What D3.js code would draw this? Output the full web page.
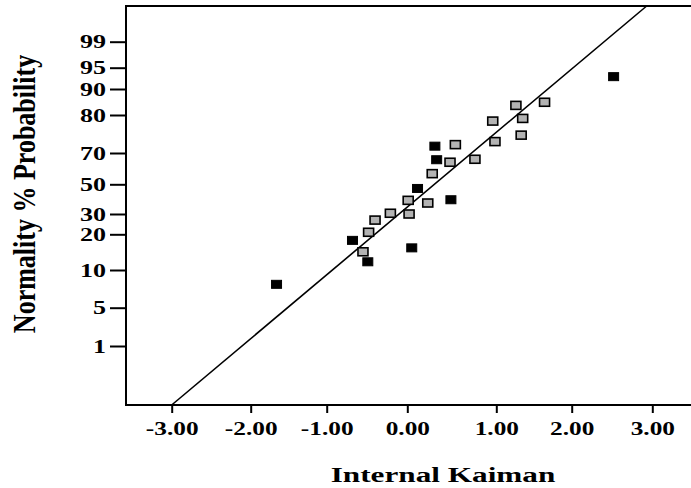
<!DOCTYPE html>
<html>
<head>
<meta charset="utf-8">
<script src="https://cdn.jsdelivr.net/npm/d3@7"></script>
<style>
  html, body { margin: 0; padding: 0; background: #fff; }
  svg { display: block; }
  text { font-family: "Liberation Serif", "Times New Roman", serif; font-weight: bold; fill: #000; }
</style>
</head>
<body>
<svg id="chart" width="691" height="488"></svg>
<script>
// ---- data ----
const xTicks = [-3, -2, -1, 0, 1, 2, 3];
const yTicks = [1, 5, 10, 20, 30, 50, 70, 80, 90, 95, 99];
// filled (black) runs: residual, normal % probability
const blackX = [-1.66, -0.68, -0.49, 0.05, 0.115, 0.31, 0.33, 0.49, 2.52];
const blackP = [8.1, 18.3, 12.3, 16.2, 47.2, 71.8, 65.7, 39.6, 92.9];
// gray runs
const grayX = [-0.55, -0.48, -0.40, -0.21, 0.01, 0.02, 0.23, 0.28, 0.48, 0.54, 0.76, 0.96, 0.985, 1.26, 1.35, 1.33, 1.64];
const grayP = [15.1, 21.0, 27.0, 30.5, 39.2, 30.0, 37.4, 56.8, 64.1, 72.2, 66.0, 78.4, 73.0, 83.7, 79.1, 74.7, 84.9];
// reference line: residual at bottom and top of plot
const lineX = [-3.00, 2.93];
const xTitle = "Internal Kaiman";
const yTitle = "Normality % Probability";

// ---- layout ----
const svg = d3.select("#chart");
const plotLeft = 126, plotTop = 6, plotBottom = 405, plotRight = 691;
const SX = 1.37; // horizontal text stretch of the reference

const x = d3.scaleLinear()
  .domain(xTicks)
  .range([171.7, 250.7, 326.7, 407.3, 496.3, 571.7, 652.3]);
const y = d3.scaleLinear()
  .domain(yTicks)
  .range([346, 307.7, 270, 234.3, 214, 184.3, 153, 115, 89, 67.7, 41.7]);

// frame
const frame = svg.append("g").attr("stroke", "#000").attr("stroke-width", 2).attr("fill", "none");
frame.append("line").attr("x1", plotLeft).attr("x2", plotLeft).attr("y1", plotTop - 1).attr("y2", plotBottom + 1);
frame.append("line").attr("x1", plotLeft).attr("x2", plotRight).attr("y1", plotTop).attr("y2", plotTop);
frame.append("line").attr("x1", plotLeft).attr("x2", plotRight).attr("y1", plotBottom).attr("y2", plotBottom);

// x axis
const gx = svg.append("g").attr("transform", `translate(0,${plotBottom})`)
  .call(d3.axisBottom(x).tickValues(xTicks).tickFormat(d => d.toFixed(2)).tickSize(8).tickSizeOuter(0));
gx.select(".domain").remove();
gx.selectAll(".tick line").attr("stroke", "#000").attr("stroke-width", 2);
gx.selectAll(".tick text")
  .attr("y", 30).attr("dy", null)
  .attr("font-size", 18.5)
  .attr("transform", `scale(${SX},1)`)
  .attr("font-family", null);

// y axis
const gy = svg.append("g").attr("transform", `translate(${plotLeft},0)`)
  .call(d3.axisLeft(y).tickValues(yTicks).tickFormat(d => String(d)).tickSize(16).tickSizeOuter(0));
gy.select(".domain").remove();
gy.selectAll(".tick line").attr("stroke", "#000").attr("stroke-width", 2);
gy.selectAll(".tick text")
  .attr("x", -20 / SX).attr("dy", "0.33em")
  .attr("font-size", 19)
  .attr("transform", `scale(${SX},1)`)
  .attr("font-family", null);

// reference line
svg.append("line")
  .attr("x1", x(lineX[0])).attr("y1", plotBottom)
  .attr("x2", x(lineX[1])).attr("y2", plotTop)
  .attr("stroke", "#000").attr("stroke-width", 1.6);

// points
const w = 10, h = 8;
const grayData = grayX.map((v, i) => ({ x: v, p: grayP[i] }));
const blackData = blackX.map((v, i) => ({ x: v, p: blackP[i] }));
svg.append("g").selectAll("rect").data(grayData).join("rect")
  .attr("x", d => x(d.x) - w / 2).attr("y", d => y(d.p) - h / 2)
  .attr("width", w).attr("height", h)
  .attr("fill", "#b3b3b3").attr("stroke", "#000").attr("stroke-width", 1.6);
svg.append("g").selectAll("rect").data(blackData).join("rect")
  .attr("x", d => x(d.x) - w / 2).attr("y", d => y(d.p) - h / 2)
  .attr("width", w).attr("height", h)
  .attr("fill", "#000").attr("stroke", "#000").attr("stroke-width", 1);

// axis titles
svg.append("text")
  .attr("transform", `translate(443,482) scale(1.42,1)`)
  .attr("text-anchor", "middle")
  .attr("font-size", 22)
  .text(xTitle);
svg.append("text")
  .attr("transform", `translate(35,194) rotate(-90) scale(1,1.22)`)
  .attr("text-anchor", "middle")
  .attr("font-size", 26)
  .text(yTitle);
</script>
</body>
</html>
